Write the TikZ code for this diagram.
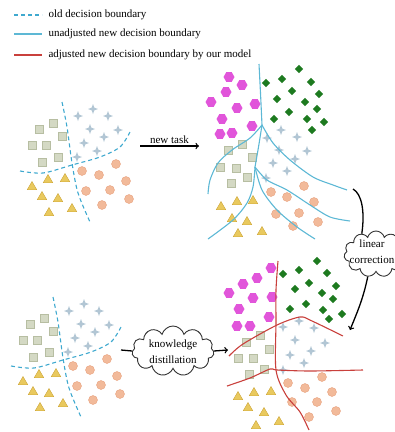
\documentclass[tikz,border=0pt]{standalone}
\usepackage{fontspec}
\setmainfont{Liberation Serif}
\usetikzlibrary{shapes.geometric,shapes.symbols}

\definecolor{oldblue}{HTML}{3FA9CF}
\definecolor{newblue}{HTML}{5DB8D5}
\definecolor{adjred}{HTML}{C9403C}
\definecolor{sqfill}{HTML}{D4D9C4}
\definecolor{sqline}{HTML}{B7BEA2}
\definecolor{stfill}{HTML}{B2C6D4}
\definecolor{cifill}{HTML}{F2BA9A}
\definecolor{ciline}{HTML}{E8A27E}
\definecolor{trfill}{HTML}{E9C95E}
\definecolor{trline}{HTML}{CDA537}
\definecolor{hxfill}{HTML}{E155DA}
\definecolor{dmfill}{HTML}{1D7A1F}

\begin{document}
\begin{tikzpicture}[x=1pt,y=-1pt,font=\fontsize{11}{16}\selectfont,
  oldline/.style={oldblue,line width=1.1pt,dash pattern=on 4pt off 3pt},
  newline/.style={newblue,line width=1.1pt},
  adjline/.style={adjred,line width=1.1pt},
  arrowline/.style={black,line width=1.3pt},
  sqr/.style={draw=sqline,fill=sqfill,minimum size=7.5pt,inner sep=0pt},
  crs/.style={star,star points=4,star point ratio=2.6,fill=stfill,minimum size=10pt,inner sep=0pt},
  circ/.style={circle,draw=ciline,fill=cifill,minimum size=9pt,inner sep=0pt},
  tri/.style={regular polygon,regular polygon sides=3,draw=trline,fill=trfill,minimum size=11pt,inner sep=0pt},
  hex/.style={regular polygon,regular polygon sides=6,fill=hxfill,minimum size=11pt,inner sep=0pt},
  dia/.style={diamond,fill=dmfill,minimum size=8.5pt,inner sep=0pt},
  cloudbox/.style={cloud,cloud puffs=11,draw=black!80,line width=0.9pt,inner sep=0pt}]

\useasboundingbox (0,0) rectangle (395,432);

% Legend
\draw[oldline] (14,15) -- (42,15);
\node[anchor=west] (lgold) at (45,15) {old decision boundary};
\draw[newline] (14,34) -- (42,34);
\node[anchor=west] (lgnew) at (45,34) {unadjusted new decision boundary};
\draw[adjline] (14,55) -- (42,55);
\node[anchor=west] (lgadj) at (45,55) {adjusted new decision boundary by our model};

% Old model, top left and again bottom left
\foreach \dx/\dy in {0/0,-9/195} {
\begin{scope}[shift={(\dx,\dy)}]
\foreach \x/\y in {53/123,39/129,62/136,32/145,46/145,58/157,42/162} \node[sqr] at (\x,\y) {};
\foreach \x/\y in {78/116,93/109,108/116,90/129,104/137,118/130,84/143,97/151,77/157} \node[crs] at (\x,\y) {};
\foreach \x/\y in {116/164,82/171,99/175,126/181,86/191,110/190,129/199,102/205} \node[circ] at (\x,\y) {};
\foreach \x/\y in {32/187,48/180,65/179,42/197,58/199,49/213,72/209} \node[tri] at (\x,\y) {};
\draw[oldline] plot[smooth] coordinates {(62,102) (67,127) (72,163) (78,193) (90,222)};
\draw[oldline] plot[smooth] coordinates {(20,171) (43,173) (72,165) (100,157) (120,147) (130,132)};
\end{scope}
}

% New task arrow
\coordinate (nts) at (140,146);
\coordinate (nte) at (199,146);
\draw[arrowline,->] (nts) -- node[above,inner sep=2pt] (ntl) {new task} (nte);

% New model without correction (top right)
\foreach \x/\y in {229/77,242/85,226/92,211/102,237/108,255/104,222/119,252/126,220/134,232/133} \node[hex] at (\x,\y) {};
\foreach \x/\y in {299/69,266/83,282/79,311/82,292/91,319/94,277/99,305/102,317/109,289/112,274/119,307/119,324/122,312/130} \node[dia] at (\x,\y) {};
\foreach \x/\y in {281/130,297/137,267/138,279/150,307/151,295/159,273/163,287/171,266/178} \node[crs] at (\x,\y) {};
\foreach \x/\y in {242/144,228/150,252/157,220/167,236/168,247/177,231/183} \node[sqr] at (\x,\y) {};
\foreach \x/\y in {304/186,271/192,287/197,314/202,276/214,299/213,318/222,293/226} \node[circ] at (\x,\y) {};
\foreach \x/\y in {221/207,237/202,253/201,232/219,247/222,238/234,262/232} \node[tri] at (\x,\y) {};

\coordinate (ja) at (262,125);
\coordinate (jb) at (255,167);
\draw[newline] plot[smooth] coordinates {(259,64) (260.5,93) (ja)};
\draw[newline] plot[smooth] coordinates {(ja) (250,138) (232,150) (218,163) (210,180) (208,194)};
\draw[newline] plot[smooth] coordinates {(ja) (258.5,147) (jb)};
\draw[newline] plot[smooth] coordinates {(ja) (273,143) (290,160) (313,177) (333,185) (347,190)};
\draw[newline] plot[smooth] coordinates {(jb) (253,187) (247,203) (233,220) (208,239)};
\draw[newline] plot[smooth] coordinates {(jb) (262,190) (277,210) (297,227) (315,239)};
\draw[newline] plot[smooth] coordinates {(jb) (267,180) (287,190) (310,205) (330,217) (350,221)};

% Linear correction
\node[cloudbox,minimum width=64pt,minimum height=46pt] (lc) at (376,254) {};
\node[align=center] (lct) at (372,252) {linear\\correction};
\coordinate (lcs) at (353,189);
\coordinate (lce) at (350,330);
\draw[arrowline] (lcs) .. controls (362,194) and (365,212) .. (lc.125);
\draw[arrowline,->] (lc.250) .. controls (363,300) and (356,315) .. (lce);

% Knowledge distillation
\node[cloudbox,minimum width=82pt,minimum height=50pt] (kd) at (173,351) {};
\node[align=center] (kdt) at (173,352) {knowledge\\distillation};
\coordinate (kds) at (121,350);
\coordinate (kde) at (228,350);
\draw[arrowline] (kds) -- (kd.west);
\draw[arrowline,->] (kd.east) -- (kde);

% New model with correction (bottom right)
\foreach \x/\y in {271/268,257/278,243/284,229/293,253/298,272/297,239/309,269/317,237/326,250/326} \node[hex] at (\x,\y) {};
\foreach \x/\y in {317/261,299/270,283/274,327/273,309/283,336/286,295/289,322/293,333/299,306/304,290/309,323/310,342/314,329/319} \node[dia] at (\x,\y) {};
\foreach \x/\y in {283/327,299/321,314/328,295/340,325/343,311/351,290/355,304/363,283/370} \node[crs] at (\x,\y) {};
\foreach \x/\y in {260/335,246/342,269/349,238/358,253/358,264/369,249/374} \node[sqr] at (\x,\y) {};
\foreach \x/\y in {322/377,288/383,305/388,332/392,292/402,317/402,336/411,309/417} \node[circ] at (\x,\y) {};
\foreach \x/\y in {238/397,254/393,271/392,248/408,264/413,256/426,279/422} \node[tri] at (\x,\y) {};

\draw[adjline] plot[smooth] coordinates {(278,261) (276,290) (276,322) (276,370) (286,395) (300,412) (309,430)};
\draw[adjline] plot[smooth] coordinates {(229,356) (243,344) (277,325) (300,317) (312,321) (343,336)};
\draw[adjline] plot[smooth] coordinates {(227,386) (250,378) (270,369) (277,370) (310,371) (363,370)};

\end{tikzpicture}
\end{document}
